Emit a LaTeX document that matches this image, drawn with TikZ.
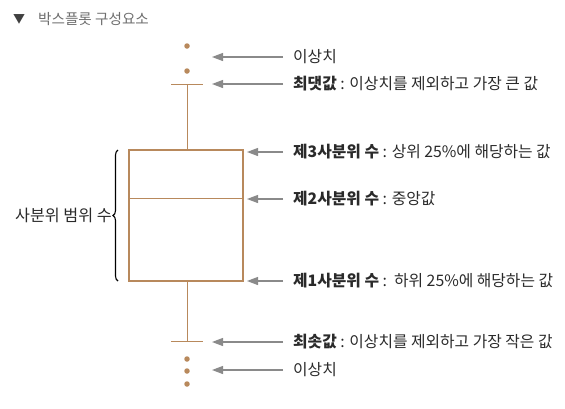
\documentclass[tikz,border=0pt]{standalone}
\usepackage{fontspec}
\setmainfont{Noto Sans CJK KR}
\usetikzlibrary{arrows.meta,decorations.pathreplacing}
\definecolor{boxc}{HTML}{B8895C}
\definecolor{arrc}{HTML}{8A8A8A}
\definecolor{hdr}{HTML}{6E6E6E}
\definecolor{txt}{HTML}{2A2A2A}
\begin{document}
\begin{tikzpicture}[x=1pt,y=-1pt,
  lbl/.style={anchor=west,inner sep=0pt,font=\fontsize{15.8}{18}\selectfont,text=txt},
  ptr/.style={draw=arrc,line width=1.2pt,-{Triangle[length=11pt,width=8pt]},shorten <=10pt},
  dot/.style={circle,fill=boxc,inner sep=0pt,minimum size=5.5pt},
  thin/.style={draw=boxc,line width=0.9pt}]
\useasboundingbox (0,0) rectangle (565,408);
% header
\node[inner sep=0pt,text=black!75,font=\fontsize{12}{13}\selectfont] (tri) at (19,19) {▼};
\node[anchor=west,inner sep=0pt,text=hdr,font=\fontsize{14.6}{16}\selectfont] (hd) at (38,19) {박스플롯 구성요소};
% box plot
\node[draw=boxc,line width=1.8pt,minimum width=114pt,minimum height=131pt,inner sep=0pt] (box) at (186,215.5) {};
\coordinate (med) at (186,198);
\draw[thin] (box.west |- med) -- (box.east |- med);
\coordinate (capT) at (187,84);
\coordinate (capB) at (187,341);
\draw[thin] (capT) -- (box.north -| capT);
\draw[thin] (capB) -- (box.south -| capB);
\draw[thin] ([xshift=-16pt]capT) -- ([xshift=16pt]capT);
\draw[thin] ([xshift=-16pt]capB) -- ([xshift=16pt]capB);
\node[dot] (o1) at (187,46) {};
\node[dot] (o2) at (187,71) {};
\node[dot] (o3) at (187,359) {};
\node[dot] (o4) at (187,371) {};
\node[dot] (o5) at (187,384) {};
% labels
\node[lbl] (l1) at (293,57) {이상치};
\node[lbl] (l2) at (293,84) {\textbf{최댓값} : 이상치를 제외하고 가장 큰 값};
\node[lbl] (l3) at (293,152) {\textbf{제3사분위 수} : 상위 25\%에 해당하는 값};
\node[lbl] (l4) at (293,199) {\textbf{제2사분위 수} : 중앙값};
\node[lbl] (l5) at (293,281) {\textbf{제1사분위 수} :\ \ 하위 25\%에 해당하는 값};
\node[lbl] (l6) at (293,342) {\textbf{최솟값} : 이상치를 제외하고 가장 작은 값};
\node[lbl] (l7) at (293,370) {이상치};
% arrow tips
\coordinate (t1) at (212,57);
\coordinate (t2) at (212,84);
\coordinate (t3) at (247,152);
\coordinate (t4) at (247,199);
\coordinate (t5) at (247,281);
\coordinate (t6) at (212,342);
\coordinate (t7) at (212,370);
\foreach \i in {1,...,7} {\draw[ptr] (l\i.west) -- (t\i);}
% brace
\coordinate (bb) at (118,281);
\coordinate (bt) at (118,150);
\draw[line width=1.1pt,decorate,decoration={brace,amplitude=5pt}] (bb) -- (bt);
\node[anchor=east,inner sep=0pt,font=\fontsize{16.2}{18}\selectfont,text=txt] (iqr) at (112,215) {사분위 범위 수};
\end{tikzpicture}
\end{document}
